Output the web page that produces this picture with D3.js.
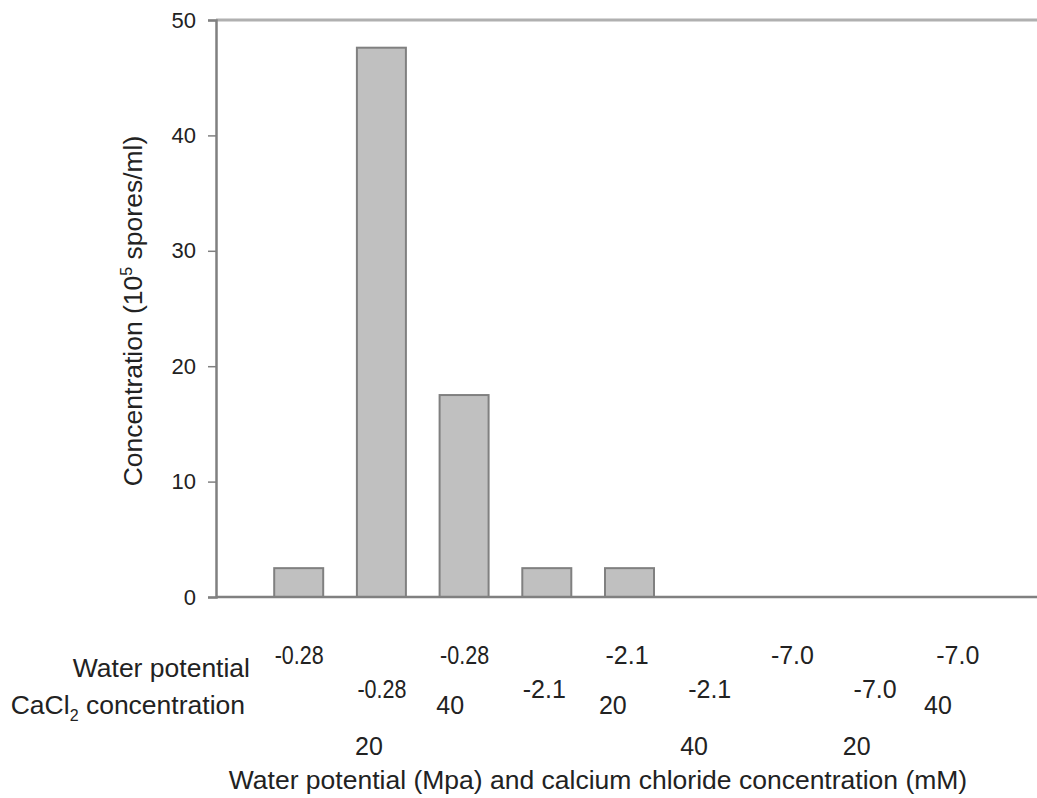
<!DOCTYPE html>
<html>
<head>
<meta charset="utf-8">
<script src="https://cdn.jsdelivr.net/npm/d3@7"></script>
<style>
  body { margin: 0; background: #fff; }
  svg { display: block; font-family: "Liberation Sans", Arial, sans-serif; }
</style>
</head>
<body>
<svg id="chart" width="1037" height="798"></svg>
<script>
// values
const waterPotential = ["-0.28", "-0.28", "-0.28", "-2.1", "-2.1", "-2.1", "-7.0", "-7.0", "-7.0"];
const cacl2 = ["", "20", "40", "", "20", "40", "", "20", "40"];
const spores = [2.5, 47.6, 17.5, 2.5, 2.5, 0, 0, 0, 0];
const yTicks = [0, 10, 20, 30, 40, 50];

var svg = d3.select("#chart");
var ink = "#222";

// bars sit at 1..9 on a linear axis that runs off the right edge
var x = d3.scaleLinear().domain([0, 10]).range([216, 1043]);
var y = d3.scaleLinear().domain([0, 50]).range([597, 20]);
var barW = 49;

// top frame line
svg.append("line")
    .attr("x1", x(0)).attr("x2", 1037)
    .attr("y1", y(50)).attr("y2", y(50))
    .attr("stroke", "#b0b0b0").attr("stroke-width", 3);

// bars (zero values draw nothing)
svg.selectAll("rect.bar")
    .data(spores.map((v, i) => ({v: v, i: i})).filter(d => d.v > 0))
    .enter().append("rect")
    .attr("class", "bar")
    .attr("x", d => x(d.i + 1) - barW / 2)
    .attr("y", d => y(d.v))
    .attr("width", barW)
    .attr("height", d => y(0) - y(d.v))
    .attr("fill", "#c0c0c0")
    .attr("stroke", "#808080")
    .attr("stroke-width", 2);

// x axis line
svg.append("line")
    .attr("x1", x(0)).attr("x2", 1037)
    .attr("y1", y(0)).attr("y2", y(0))
    .attr("stroke", "#808080").attr("stroke-width", 2.5);

// y axis
var yAxis = d3.axisLeft(y).tickValues(yTicks).tickSize(8).tickPadding(12);
var yg = svg.append("g").attr("transform", "translate(" + x(0) + ",0)").call(yAxis);
yg.select(".domain").attr("stroke", "#808080").attr("stroke-width", 2.5);
yg.selectAll(".tick line").attr("stroke", "#808080").attr("stroke-width", 1.5);
yg.selectAll(".tick text").attr("fill", ink)
    .style("font-size", "22px")
    .style("font-family", "'Liberation Sans', Arial, sans-serif");

// category labels, staggered like the original
var nums = svg.append("g").attr("fill", ink).style("font-size", "25px");
waterPotential.forEach(function(t, i) {
    var tx = nums.append("text")
        .attr("x", x(i + 1) - 24)
        .attr("y", i % 2 === 0 ? 655 : 689)
        .attr("dy", "0.35em")
        .text(t);
    // the long labels are set tight in the original
    if (tx.node().getComputedTextLength() > 50) {
        tx.attr("textLength", 49).attr("lengthAdjust", "spacingAndGlyphs");
    }
    if (cacl2[i]) {
        nums.append("text")
            .attr("x", x(i + 1) - 25 - i * 1.4)
            .attr("y", i % 2 === 1 ? 746 : 705)
            .attr("dy", "0.35em")
            .text(cacl2[i]);
    }
});

// row names
var lab = svg.append("g").attr("fill", ink).style("font-size", "26.5px");
lab.append("text").attr("x", 250).attr("y", 668).attr("dy", "0.35em")
    .attr("text-anchor", "end").text("Water potential");
var cl = lab.append("text").attr("x", 245).attr("y", 705).attr("dy", "0.35em")
    .attr("text-anchor", "end");
cl.append("tspan").text("CaCl");
cl.append("tspan").attr("dy", "7").style("font-size", "16px").text("2");
cl.append("tspan").attr("dy", "-7").text(" concentration");

// axis titles
svg.append("text")
    .attr("x", 598).attr("y", 780).attr("dy", "0.35em")
    .attr("text-anchor", "middle").attr("fill", ink).style("font-size", "26.5px")
    .text("Water potential (Mpa) and calcium chloride concentration (mM)");

var yt = svg.append("text")
    .attr("transform", "translate(133,311) rotate(-90)")
    .attr("dy", "0.35em")
    .attr("text-anchor", "middle").attr("fill", ink).style("font-size", "26.5px");
yt.append("tspan").text("Concentration (10");
yt.append("tspan").attr("dy", "-10").style("font-size", "16px").text("5");
yt.append("tspan").attr("dy", "10").text(" spores/ml)");
</script>
</body>
</html>
